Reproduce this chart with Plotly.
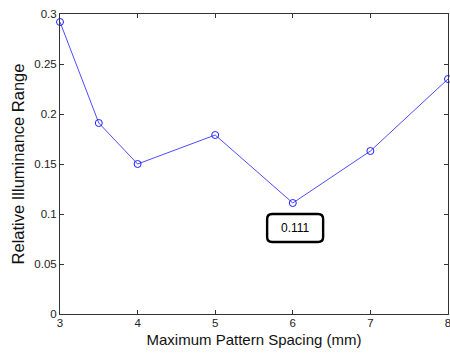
import plotly.graph_objects as go

spacing_mm = [3, 3.5, 4, 5, 6, 7, 8]
illum_range = [0.292, 0.191, 0.150, 0.179, 0.111, 0.163, 0.235]
x_ticks = [3, 4, 5, 6, 7, 8]
y_ticks = [0, 0.05, 0.1, 0.15, 0.2, 0.25, 0.3]
y_tick_text = ["0", "0.05", "0.1", "0.15", "0.2", "0.25", "0.3"]
label_text = "0.111"
label_pos = (6.03, 0.086)

FONT = "Liberation Sans, Arial"

fig = go.Figure()
fig.add_trace(go.Scatter(
    x=spacing_mm, y=illum_range, mode="lines+markers",
    line=dict(color="#2020ff", width=0.8),
    marker=dict(symbol="circle-open", size=7, color="#2020ff", line=dict(width=1)),
    showlegend=False, cliponaxis=False,
))

# rounded box around the data-tip label
fig.add_shape(
    type="path", xref="x", yref="y",
    xsizemode="pixel", ysizemode="pixel",
    xanchor=label_pos[0], yanchor=label_pos[1],
    path="M -23,-14 H 23 Q 28,-14 28,-9 V 9 Q 28,14 23,14 H -23 Q -28,14 -28,9 V -9 Q -28,-14 -23,-14 Z",
    line=dict(color="black", width=2.4), fillcolor="white",
)
fig.add_annotation(
    x=label_pos[0], y=label_pos[1], text=label_text, showarrow=False,
    font=dict(family=FONT, size=12, color="black"),
)

axis_common = dict(
    showline=True, linecolor="#333333", linewidth=1, mirror="allticks",
    ticks="inside", ticklen=4, tickcolor="#333333", showgrid=False, zeroline=False,
    tickfont=dict(family=FONT, size=11.5, color="#222222"),
)

fig.update_xaxes(range=[3, 8], tickvals=x_ticks, ticklabeloverflow="allow",
                 ticklabelstandoff=-2,
                 title=dict(text="Maximum Pattern Spacing (mm)", standoff=6,
                            font=dict(family=FONT, size=15, color="#111111")),
                 **axis_common)
fig.update_yaxes(range=[0, 0.3], tickvals=y_ticks, ticktext=y_tick_text,
                 title=dict(text="Relative Illuminance Range", standoff=5,
                            font=dict(family=FONT, size=16.5, color="#111111")),
                 **axis_common)

fig.update_layout(
    width=450, height=353,
    margin=dict(l=60, r=2, t=14, b=39, autoexpand=False),
    paper_bgcolor="white", plot_bgcolor="white",
)

fig.write_html("out.html", config={"displayModeBar": False},
               post_script="document.body.style.margin='0';")
